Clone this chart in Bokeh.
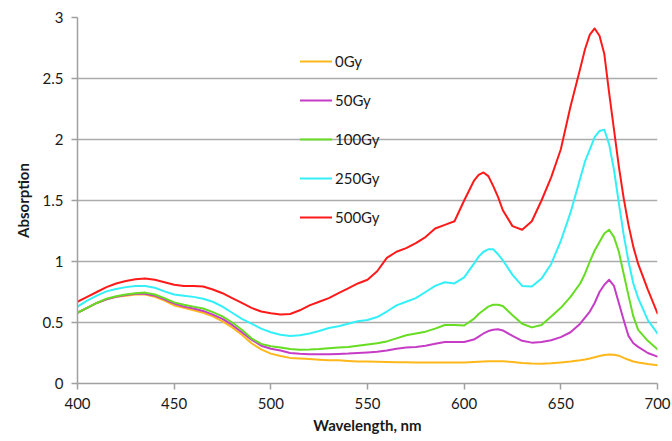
from bokeh.plotting import figure
from bokeh.models import FixedTicker, Legend, LegendItem
from bokeh.embed import file_html
from bokeh.resources import INLINE

wavelength = list(range(400, 601, 5)) + [
    605, 607.5, 610, 612.5, 615, 617.5, 620, 625, 630, 635, 640, 645, 650, 655,
    660, 662.5, 665, 667.5, 670, 672.5, 675, 677.5, 680, 682.5, 685, 687.5,
    690, 695, 700]

gy0 = [0.58, 0.62, 0.66, 0.69, 0.71, 0.72, 0.73, 0.73, 0.71, 0.68,
       0.64, 0.62, 0.60, 0.58, 0.55, 0.51, 0.46, 0.40, 0.33, 0.28,
       0.245, 0.225, 0.21, 0.205, 0.20, 0.195, 0.19, 0.19, 0.185, 0.18,
       0.18, 0.178, 0.176, 0.175, 0.174, 0.173, 0.172, 0.172, 0.172, 0.172,
       0.173,
       0.176, 0.178, 0.18, 0.182, 0.183, 0.183, 0.182, 0.176, 0.168, 0.163,
       0.162, 0.165, 0.172, 0.18, 0.19, 0.197, 0.205, 0.215, 0.225, 0.233,
       0.238, 0.236, 0.228, 0.21, 0.195, 0.18, 0.172, 0.16, 0.15]

gy50 = [0.58, 0.62, 0.66, 0.69, 0.71, 0.725, 0.735, 0.735, 0.72, 0.69,
        0.655, 0.63, 0.615, 0.595, 0.565, 0.53, 0.48, 0.42, 0.36, 0.31,
        0.285, 0.27, 0.25, 0.243, 0.24, 0.24, 0.24, 0.242, 0.245, 0.25,
        0.255, 0.26, 0.27, 0.285, 0.295, 0.30, 0.31, 0.325, 0.34, 0.34,
        0.34,
        0.36, 0.385, 0.41, 0.43, 0.44, 0.445, 0.435, 0.39, 0.35, 0.335,
        0.34, 0.355, 0.38, 0.42, 0.49, 0.54, 0.59, 0.66, 0.75, 0.81,
        0.85, 0.80, 0.66, 0.52, 0.39, 0.33, 0.30, 0.25, 0.22]

gy100 = [0.58, 0.62, 0.66, 0.695, 0.715, 0.73, 0.74, 0.745, 0.73, 0.70,
         0.665, 0.645, 0.63, 0.615, 0.585, 0.55, 0.50, 0.44, 0.37, 0.325,
         0.305, 0.295, 0.283, 0.277, 0.278, 0.282, 0.288, 0.295, 0.30, 0.31,
         0.32, 0.33, 0.345, 0.37, 0.395, 0.41, 0.425, 0.45, 0.48, 0.48,
         0.475,
         0.53, 0.57, 0.60, 0.63, 0.645, 0.645, 0.635, 0.56, 0.49, 0.46,
         0.48, 0.55, 0.62, 0.71, 0.82, 0.90, 1.00, 1.09, 1.16, 1.23,
         1.26, 1.20, 1.08, 0.90, 0.72, 0.55, 0.44, 0.35, 0.28]

gy250 = [0.63, 0.68, 0.72, 0.755, 0.775, 0.79, 0.80, 0.80, 0.785, 0.755,
         0.73, 0.72, 0.71, 0.695, 0.67, 0.63, 0.58, 0.53, 0.49, 0.45,
         0.42, 0.40, 0.39, 0.395, 0.41, 0.43, 0.455, 0.47, 0.49, 0.51,
         0.52, 0.545, 0.59, 0.64, 0.67, 0.70, 0.75, 0.80, 0.83, 0.82,
         0.87,
         0.98, 1.04, 1.08, 1.10, 1.10, 1.06, 1.01, 0.89, 0.80, 0.795,
         0.86, 0.98, 1.17, 1.40, 1.68, 1.82, 1.92, 2.02, 2.07, 2.08,
         1.96, 1.75, 1.48, 1.22, 1.00, 0.82, 0.70, 0.52, 0.41]

gy500 = [0.67, 0.71, 0.75, 0.79, 0.82, 0.84, 0.855, 0.86, 0.85, 0.83,
         0.81, 0.80, 0.80, 0.795, 0.77, 0.74, 0.70, 0.66, 0.62, 0.59,
         0.575, 0.565, 0.57, 0.60, 0.64, 0.67, 0.70, 0.74, 0.78, 0.82,
         0.85, 0.92, 1.03, 1.08, 1.11, 1.15, 1.20, 1.27, 1.30, 1.33,
         1.50,
         1.66, 1.71, 1.73, 1.70, 1.62, 1.53, 1.42, 1.29, 1.26, 1.33,
         1.50, 1.69, 1.92, 2.27, 2.58, 2.74, 2.86, 2.91, 2.85, 2.70,
         2.38, 2.08, 1.78, 1.52, 1.30, 1.12, 0.98, 0.77, 0.575]

series_names = ["0Gy", "50Gy", "100Gy", "250Gy", "500Gy"]
series_values = [gy0, gy50, gy100, gy250, gy500]
series_colors = ["#FFB81C", "#C63CC6", "#66DD22", "#33F0F8", "#FF1A1A"]

x_ticks = [400, 450, 500, 550, 600, 650, 700]
y_ticks = [0, 0.5, 1, 1.5, 2, 2.5, 3]
y_tick_labels = ["0", "0.5", "1", "1.5", "2", "2.5", "3"]

FONT = "Lato"

p = figure(width=672, height=441, output_backend="svg", toolbar_location=None,
           x_range=(400, 700), y_range=(0, 3),
           min_border_left=77, min_border_right=15, min_border_top=17,
           min_border_bottom=58)
p.outline_line_color = None
p.background_fill_color = "white"
p.border_fill_color = "white"

renderers = []
for name, vals, col in zip(series_names, series_values, series_colors):
    r = p.line(wavelength, vals, line_color=col, line_width=2,
               line_join="round", line_cap="round")
    renderers.append((name, r))

p.xgrid.grid_line_color = None
p.ygrid.grid_line_color = "#ababab"
p.ygrid.grid_line_width = 1.5
p.ygrid.ticker = FixedTicker(ticks=y_ticks)

p.xaxis.ticker = FixedTicker(ticks=x_ticks)
p.yaxis.ticker = FixedTicker(ticks=y_ticks)
p.yaxis.major_label_overrides = {t: l for t, l in zip(y_ticks, y_tick_labels)}
p.xaxis.major_label_overrides = {t: str(t) for t in x_ticks}

for ax in (p.xaxis[0], p.yaxis[0]):
    ax.axis_line_color = "#a0a0a0"
    ax.axis_line_width = 1.5
    ax.major_tick_line_color = "#a0a0a0"
    ax.major_tick_line_width = 1.5
    ax.major_tick_out = 6
    ax.major_tick_in = 0
    ax.minor_tick_line_color = None
    ax.major_label_text_font = FONT
    ax.major_label_text_font_size = "15px"
    ax.major_label_text_color = "#1a1a1a"
    ax.axis_label_text_font = FONT
    ax.axis_label_text_font_size = "15px"
    ax.axis_label_text_font_style = "bold"
    ax.axis_label_text_color = "#1a1a1a"

p.xaxis.axis_label = "Wavelength, nm"
p.yaxis.axis_label = "Absorption"
p.xaxis.major_label_standoff = 8
p.yaxis.major_label_standoff = 8
p.xaxis.axis_label_standoff = 4
p.yaxis.axis_label_standoff = 8

legend = Legend(items=[LegendItem(label=n, renderers=[r]) for n, r in renderers],
                location=(223, 156))
legend.background_fill_alpha = 0
legend.border_line_alpha = 0
legend.padding = 0
legend.margin = 0
legend.spacing = 19
legend.glyph_width = 32
legend.glyph_height = 20
legend.label_height = 20
legend.label_standoff = 3
legend.label_text_font = FONT
legend.label_text_font_size = "15px"
legend.label_text_color = "#1a1a1a"
p.add_layout(legend)

open("out.html", "w").write(file_html(p, INLINE))
